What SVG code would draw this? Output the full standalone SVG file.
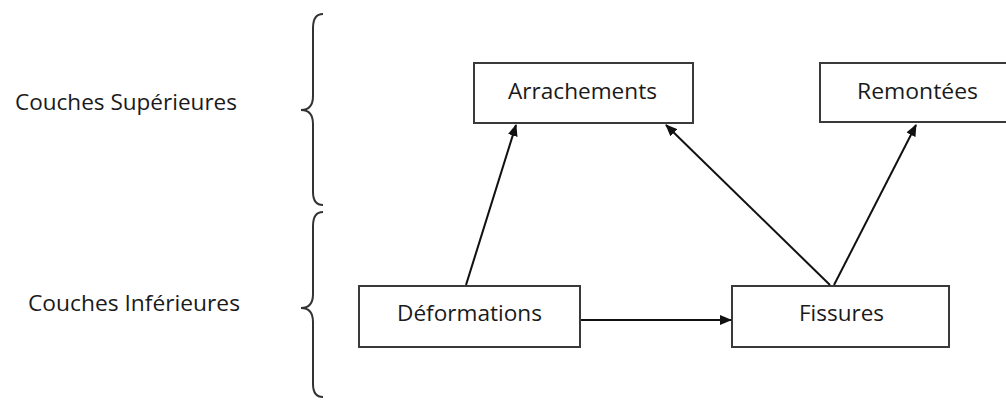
<svg xmlns="http://www.w3.org/2000/svg" width="1006" height="401" viewBox="0 0 1006 401">
<defs>
<style>
.box{fill:#fff;stroke:#3a3a3a;stroke-width:2}
.t{font-family:"Open Sans","Noto Sans",sans-serif;font-size:22px;font-weight:500;fill:#1a1a1a}
.c{stroke:#111;stroke-width:2;fill:none}
.brace{stroke:#333;stroke-width:2;fill:none}
</style>
<marker id="ah" markerWidth="12" markerHeight="10" refX="11" refY="5" orient="auto" markerUnits="userSpaceOnUse">
<path d="M0,0 L12,5 L0,10 Z" fill="#111"/>
</marker>
</defs>
<rect width="1006" height="401" fill="#fff"/>
<g id="labels">
<text class="t" x="15" y="110" textLength="222" lengthAdjust="spacingAndGlyphs">Couches Supérieures</text>
<text class="t" x="28" y="311" textLength="212" lengthAdjust="spacingAndGlyphs">Couches Inférieures</text>
</g>
<g id="braces">
<path class="brace" d="M323,14 Q313,14 313,28 L313,96 Q313,110 301,110 Q313,110 313,124 L313,192 Q313,205 323,205"/>
<path class="brace" d="M323,212 Q313,212 313,226 L313,294 Q313,308 301,308 Q313,308 313,322 L313,384 Q313,397 323,397"/>
</g>
<g id="arrachements">
<rect class="box" x="474" y="63" width="219" height="60"/>
<text class="t" x="508" y="99" textLength="149" lengthAdjust="spacingAndGlyphs">Arrachements</text>
</g>
<g id="remontees">
<rect class="box" x="820" y="63" width="194" height="59"/>
<text class="t" x="857" y="99" textLength="121" lengthAdjust="spacingAndGlyphs">Remontées</text>
</g>
<g id="deformations">
<rect class="box" x="359" y="286" width="221" height="61"/>
<text class="t" x="397" y="321" textLength="145" lengthAdjust="spacingAndGlyphs">Déformations</text>
</g>
<g id="fissures">
<rect class="box" x="732" y="286" width="217" height="61"/>
<text class="t" x="799" y="321" textLength="85" lengthAdjust="spacingAndGlyphs">Fissures</text>
</g>
<g id="connectors">
<line class="c" x1="466" y1="285" x2="516" y2="125" marker-end="url(#ah)"/>
<line class="c" x1="830" y1="285" x2="666" y2="125" marker-end="url(#ah)"/>
<line class="c" x1="834" y1="285" x2="916" y2="125" marker-end="url(#ah)"/>
<line class="c" x1="581" y1="320" x2="731" y2="320" marker-end="url(#ah)"/>
</g>
</svg>
